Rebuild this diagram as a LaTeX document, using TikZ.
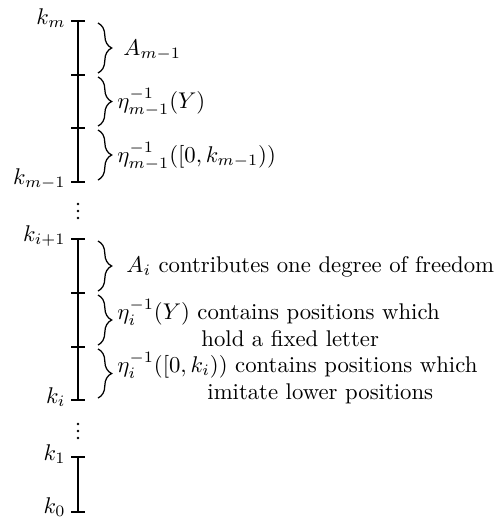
\documentclass[tikz,border=0pt]{standalone}
\usepackage{amsmath,amssymb}
\usepackage{tikz}
\usetikzlibrary{calc,decorations.pathreplacing}

\tikzset{
  axis/.style={line width=0.5pt},
  brc/.style={line width=0.55pt, decorate, decoration={brace, amplitude=6pt}},
  klbl/.style={anchor=east, inner sep=0pt},
  lbl/.style={anchor=base west, inner sep=0pt}
}

\begin{document}
\begin{tikzpicture}[x=0.44pt, y=-0.44pt]
  \useasboundingbox (0,0) rectangle (498,518);

  % tick points on the scale
  \foreach \n/\y in {km/21, ta/75, tb/128, kmm/182, kip/239, tc/293, td/347, ki/400, kone/457, kzero/512}
    \coordinate (\n) at (78,\y);

  % axes and ticks
  \draw[axis] (km) -- (kmm);
  \draw[axis] (kip) -- (ki);
  \draw[axis] (kone) -- (kzero);
  \foreach \n in {km, ta, tb, kmm, kip, tc, td, ki, kone, kzero}
    \draw[axis] (\n) ++(-7,0) -- ++(14,0);

  % tick labels
  \node[klbl] (lkm)  at ($(km)+(-12,-3)$)    {$k_m$};
  \node[klbl] (lkmm) at ($(kmm)+(-12,-3)$)   {$k_{m-1}$};
  \node[klbl] (lkip) at ($(kip)+(-12,-3)$)   {$k_{i+1}$};
  \node[klbl] (lki)  at ($(ki)+(-12,-3)$)    {$k_i$};
  \node[klbl] (lk1)  at ($(kone)+(-12,-3)$)  {$k_1$};
  \node[klbl] (lk0)  at ($(kzero)+(-12,-5)$) {$k_0$};

  % gaps in the scale
  \foreach \y in {204, 211, 218, 424, 431, 438}
    \fill (78,\y) circle[radius=0.6pt];

  % braces, upper block
  \draw[brc] ($(km)+(20,2)$)  -- ($(ta)+(20,-2)$);
  \draw[brc] ($(ta)+(20,2)$)  -- ($(tb)+(20,-2)$);
  \draw[brc] ($(tb)+(20,2)$)  -- ($(kmm)+(20,-2)$);
  \node[lbl] (am)   at (123,55)  {$A_{m-1}$};
  \node[lbl] (emy)  at (117,108) {$\eta_{m-1}^{-1}(Y)$};
  \node[lbl] (emk)  at (117,162) {$\eta_{m-1}^{-1}([0,k_{m-1}))$};

  % braces, lower block
  \draw[brc] ($(kip)+(20,2)$) -- ($(tc)+(20,-2)$);
  \draw[brc] ($(tc)+(20,2)$)  -- ($(td)+(20,-2)$);
  \draw[brc] ($(td)+(20,2)$)  -- ($(ki)+(20,-2)$);
  \node[lbl] (ai)   at (126,272) {$A_i$ contributes one degree of freedom};
  \node[lbl] (eiy)  at (117,319) {$\eta_i^{-1}(Y)$ contains positions which};
  \node[lbl] (eiyb) at (201,346) {hold a fixed letter};
  \node[lbl] (eik)  at (117,372) {$\eta_i^{-1}([0,k_i))$ contains positions which};
  \node[lbl] (eikb) at (207,399) {imitate lower positions};
\end{tikzpicture}
\end{document}
